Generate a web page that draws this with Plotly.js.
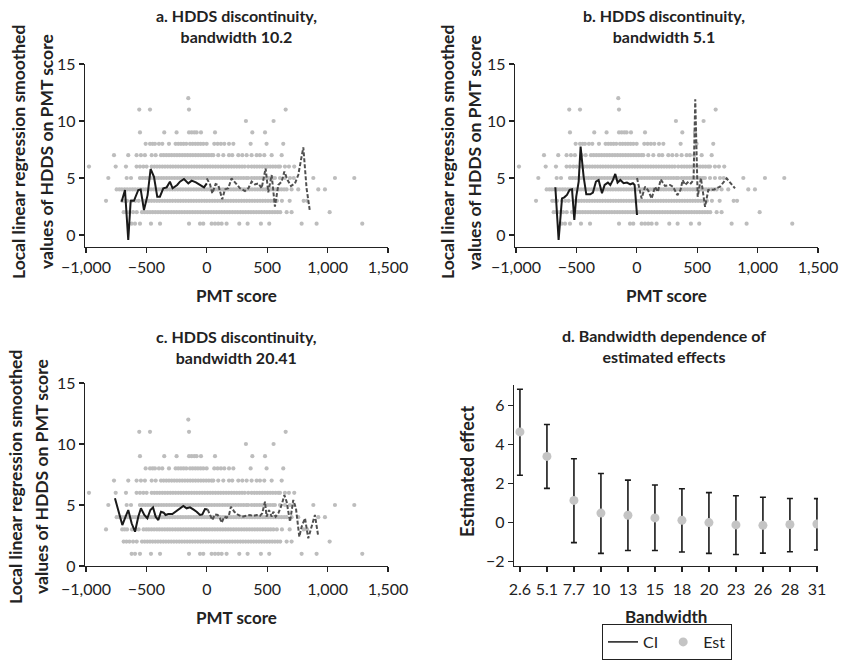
<!DOCTYPE html>
<html>
<head>
<meta charset="utf-8">
<script src="https://cdn.plot.ly/plotly-3.0.1.min.js"></script>
<style>html,body{margin:0;padding:0;background:#fff}#chart{width:841px;height:661px}</style>
</head>
<body>
<div id="chart"></div>
<script>
// ---- raw observations: PMT score values at each HDDS level ----
const hddsLevels = [1,2,3,4,5,6,7,8,9,10,11,12];
const pmtAtHdds1 = [-622,-594,-553,-462,-387,-147,-56,-29,40,68,95,123,164,269,338,448,517,785,909,1287];
const pmtAtHdds2 = [-688,-665,-640,-610,-580,-536,-514,-492,-470,-448,-426,-404,-382,-360,-338,-316,-294,-272,-250,-228,-206,-184,-162,-140,-118,-96,-74,-52,-30,-8,14,36,58,80,102,124,146,168,190,212,234,256,278,300,322,344,366,388,410,432,454,476,498,520,542,564,586,608,661,702,1017];
const pmtAtHdds3 = [-834,-700,-680,-660,-619,-592,-564,-523,-501,-480,-458,-436,-413,-392,-370,-348,-326,-305,-283,-260,-238,-217,-195,-173,-151,-130,-108,-86,-64,-42,-20,1,23,45,67,89,111,133,155,177,199,221,243,265,287,309,331,353,375,397,419,441,463,485,507,529,551,580,622,686,802,830];
const pmtAtHdds4 = [-746,-724,-703,-680,-659,-636,-614,-593,-570,-548,-527,-504,-482,-461,-438,-416,-395,-372,-350,-329,-306,-284,-263,-240,-218,-197,-174,-152,-131,-108,-86,-65,-42,-20,2,24,45,68,90,111,134,156,177,200,222,243,266,288,309,332,354,375,398,420,441,464,486,507,530,552,573,596,618,640,661,702,757,923,978];
const pmtAtHdds5 = [-815,-663,-627,-553,-531,-509,-487,-465,-443,-421,-399,-377,-355,-333,-311,-289,-267,-245,-223,-201,-179,-157,-135,-113,-91,-69,-47,-25,-3,19,41,63,85,107,129,151,173,195,217,239,261,283,305,327,343,371,393,415,437,459,481,503,525,547,564,606,647,689,720,882,1061,1221];
const pmtAtHdds6 = [-975,-754,-669,-581,-553,-525,-498,-456,-434,-412,-390,-368,-346,-324,-302,-280,-258,-236,-214,-192,-170,-148,-126,-104,-82,-60,-38,-16,6,28,50,72,94,116,138,160,182,204,226,248,270,292,314,343,371,393,415,437,459,481,503,525,547,569,591,606,647,680,724];
const pmtAtHdds7 = [-768,-650,-581,-545,-512,-456,-423,-379,-357,-335,-313,-291,-269,-247,-225,-203,-181,-159,-137,-115,-93,-71,-49,-27,-5,17,39,54,95,137,184,211,261,294,330,371,413,440,476,537,620];
const pmtAtHdds8 = [-506,-470,-448,-429,-396,-368,-313,-258,-236,-214,-192,-170,-139,-117,-95,-73,-51,-29,-1,62,90,117,145,184,220,363,495,633];
const pmtAtHdds9 = [-553,-352,-250,-147,-125,-103,-84,-48,68,377,482];
const pmtAtHdds10 = [324,553];
const pmtAtHdds11 = [-559,-470,-147,653];
const pmtAtHdds12 = [-153];

// ---- local linear regression smoothed lines ----
const aLeftX  = [-705,-677,-650,-630,-603,-567,-547,-520,-490,-465,-437,-410,-388,-360,-332,-305,-283,-245,-222,-189,-153,-125,-90,-56,-23,0];
const aLeftY  = [2.92,3.95,-0.44,3.0,3.0,3.95,4.0,2.19,3.5,5.79,5.11,3.36,3.36,4.1,4.18,4.68,4.1,4.39,4.68,4.91,4.53,4.77,4.62,4.39,4.18,4.53];
const aRightX = [0,27,46,73,95,128,150,178,205,239,275,316,344,371,399,427,454,487,509,537,564,592,620,642,669,697,730,757,799,826,854];
const aRightY = [4.97,4.44,3.65,4.47,4.39,3.13,4.0,4.1,4.97,4.53,4.1,3.86,4.1,4.68,4.44,4.53,4.1,5.85,3.74,5.26,2.49,4.39,4.68,5.56,4.82,4.3,4.53,5.26,7.69,4.1,2.05];

const bLeftX  = [-674,-647,-619,-600,-578,-556,-536,-517,-501,-481,-465,-440,-418,-385,-363,-338,-316,-288,-266,-239,-219,-197,-178,-159,-136,-109,-81,-54,-32,-18,2];
const bLeftY  = [4.19,-0.44,3.22,3.31,3.52,3.96,4.01,1.32,3.37,4.69,7.76,5.13,3.57,3.57,3.72,4.69,4.83,3.66,4.39,4.6,4.39,4.83,5.36,4.6,4.83,4.54,4.6,4.45,4.54,4.39,1.76];
const bRightX = [2,40,68,95,123,151,175,198,234,275,300,336,362,380,400,428,447,470,484,504,531,565,592,640,689,744,813];
const bRightY = [5.0,3.2,4.24,3.9,3.2,4.24,3.8,4.88,4.3,4.39,4.24,3.5,3.95,4.82,4.39,4.68,4.53,4.82,11.9,3.36,5.0,2.48,3.95,4.0,4.24,4.97,4.09];

const cLeftX  = [-760,-724,-699,-672,-650,-622,-594,-567,-545,-517,-492,-467,-445,-423,-401,-379,-357,-341,-319,-285,-258,-222,-194,-167,-139,-112,-84,-56,-37,-15,7];
const cLeftY  = [5.55,4.18,3.36,4.04,4.59,3.5,2.81,4.04,4.73,4.18,3.91,4.59,4.81,4.04,3.77,4.45,4.37,4.18,4.26,4.26,4.45,4.73,4.92,4.73,4.81,4.64,4.45,4.18,4.23,4.67,4.64];
const cRightX = [7,26,46,68,90,109,123,145,164,184,200,228,261,294,330,357,385,412,440,459,482,495,515,537,551,570,592,620,642,661,689,716,738,766,785,813,840,868,895,923];
const cRightY = [4.64,4.18,3.77,4.23,4.18,3.91,3.55,4.04,3.96,4.18,4.86,4.45,4.18,4.04,4.1,4.18,4.1,4.18,4.1,4.32,5.27,4.04,4.59,4.04,4.45,4.04,4.32,5.0,5.82,5.27,3.63,5.41,4.73,2.4,3.22,3.91,2.27,3.22,4.18,2.4];

// ---- panel d: bandwidth dependence ----
const bandwidthLabels = ['2.6','5.1','7.7','10','13','15','18','20','23','26','28','31'];
const estimates = [4.64,3.38,1.12,0.47,0.36,0.22,0.10,-0.02,-0.14,-0.16,-0.12,-0.09];
const ciLow  = [2.41,1.74,-1.05,-1.60,-1.45,-1.45,-1.53,-1.60,-1.66,-1.59,-1.52,-1.43];
const ciHigh = [6.83,5.02,3.26,2.50,2.16,1.91,1.72,1.52,1.36,1.28,1.22,1.21];

// ---- build ----
const rows = [pmtAtHdds1,pmtAtHdds2,pmtAtHdds3,pmtAtHdds4,pmtAtHdds5,pmtAtHdds6,pmtAtHdds7,pmtAtHdds8,pmtAtHdds9,pmtAtHdds10,pmtAtHdds11,pmtAtHdds12];
const obsX = [], obsY = [];
rows.forEach((r,i)=>r.forEach(x=>{obsX.push(x); obsY.push(hddsLevels[i]);}));

const FONT = 'Lato, "Open Sans", sans-serif';
const DOT = '#bdbdbd';
function panelTraces(xa, ya, lx, ly, rx, ry){
  return [
    {type:'scatter', mode:'markers', x:obsX, y:obsY, xaxis:xa, yaxis:ya, showlegend:false,
     marker:{color:DOT, size:4.2}, hoverinfo:'skip'},
    {type:'scatter', mode:'lines', x:lx, y:ly, xaxis:xa, yaxis:ya, showlegend:false,
     line:{color:'#1a1a1a', width:2}},
    {type:'scatter', mode:'lines', x:rx, y:ry, xaxis:xa, yaxis:ya, showlegend:false,
     line:{color:'#505050', width:2, dash:'4px,2px'}}
  ];
}
const traces = [].concat(
  panelTraces('x','y', aLeftX,aLeftY,aRightX,aRightY),
  panelTraces('x2','y2', bLeftX,bLeftY,bRightX,bRightY),
  panelTraces('x3','y3', cLeftX,cLeftY,cRightX,cRightY)
);
traces.push({type:'scatter', mode:'lines', x:[null], y:[null], xaxis:'x4', yaxis:'y4', name:'CI',
  line:{color:'#1a1a1a', width:1.5}});
traces.push({type:'scatter', mode:'markers', x:bandwidthLabels, y:estimates, xaxis:'x4', yaxis:'y4', name:'Est',
  marker:{color:'#c4c4c4', size:9},
  error_y:{type:'data', symmetric:false,
    array: ciHigh.map((h,i)=>h-estimates[i]),
    arrayminus: estimates.map((e,i)=>e-ciLow[i]),
    color:'#1a1a1a', thickness:1.6, width:3}});

const tickFont = {family:FONT, size:16, color:'#222'};
function pmtAxis(dom, anchor, standoff){
  return {domain:dom, anchor:anchor, range:[-1008,1500], tickvals:[-1000,-500,0,500,1000,1500],
    separatethousands:true, showgrid:false, zeroline:false, showline:true, linecolor:'#222', linewidth:1.3,
    ticks:'outside', ticklen:5, tickwidth:1.2, tickcolor:'#222', tickfont:tickFont, fixedrange:true,
    ticklabelstandoff:standoff||0};
}
function hddsAxis(dom, anchor, r){
  return {domain:dom, anchor:anchor, range:r, tickvals:[0,5,10,15], showgrid:false, zeroline:false,
    showline:true, linecolor:'#222', linewidth:1.3, ticks:'outside', ticklen:5, tickwidth:1.2,
    tickcolor:'#222', tickfont:tickFont, fixedrange:true};
}
const W=841, H=661;
const px = v=>v/W, py = v=>1-v/H;
function ann(text, x, y, size, opts){
  return Object.assign({text:text, x:px(x), y:py(y), xref:'paper', yref:'paper', showarrow:false,
    xanchor:'center', yanchor:'middle', font:{family:FONT, size:size, color:'#222', weight:'bold'}}, opts||{});
}
const layout = {
  width:W, height:H, margin:{l:0,r:0,t:0,b:0}, paper_bgcolor:'#fff', plot_bgcolor:'#fff',
  font:{family:FONT, color:'#222'},
  xaxis: pmtAxis([px(85),px(388)],'y'),
  yaxis: hddsAxis([py(247),py(64)],'x',[-1.05,15]),
  xaxis2: pmtAxis([px(515),px(818)],'y2'),
  yaxis2: hddsAxis([py(247),py(64)],'x2',[-1.05,15]),
  xaxis3: pmtAxis([px(85),px(388)],'y3', 3),
  yaxis3: hddsAxis([py(566),py(383)],'x3',[0,15]),
  xaxis4: {domain:[px(514),px(818)], anchor:'y4', type:'category', range:[-0.22,11.04],
    showgrid:false, zeroline:false, showline:true, linecolor:'#222', linewidth:1.3,
    ticks:'outside', ticklen:5, tickwidth:1.2, tickcolor:'#222', tickfont:tickFont, fixedrange:true,
    ticklabelstandoff:3},
  yaxis4: {domain:[py(566),py(385)], anchor:'x4', range:[-2.25,7.05], tickvals:[-2,0,2,4,6],
    showgrid:false, zeroline:false, showline:true, linecolor:'#222', linewidth:1.3,
    ticks:'outside', ticklen:5, tickwidth:1.2, tickcolor:'#222', tickfont:tickFont, fixedrange:true},
  showlegend:true,
  legend:{orientation:'h', x:px(602), y:py(660), xanchor:'left', yanchor:'bottom',
    bordercolor:'#222', borderwidth:1, bgcolor:'#fff', font:{family:FONT, size:16, color:'#222'},
    itemwidth:30, traceorder:'normal'},
  annotations:[
    ann('a. HDDS discontinuity,<br>bandwidth 10.2', 236, 26, 16),
    ann('b. HDDS discontinuity,<br>bandwidth 5.1', 664, 26, 16),
    ann('c. HDDS discontinuity,<br>bandwidth 20.41', 236, 346.5, 16),
    ann('d. Bandwidth dependence of<br>estimated effects', 664, 346, 16),
    ann('PMT score', 236, 296, 17),
    ann('PMT score', 666, 296, 17),
    ann('PMT score', 236, 617, 17),
    ann('Bandwidth', 666, 616, 17),
    ann('Local linear regression smoothed', 18, 152, 17.5, {textangle:-90}),
    ann('values of HDDS on PMT score', 46, 152, 17.5, {textangle:-90}),
    ann('Local linear regression smoothed', 447, 152, 17.5, {textangle:-90}),
    ann('values of HDDS on PMT score', 474, 152, 17.5, {textangle:-90}),
    ann('Local linear regression smoothed', 16, 477, 17.5, {textangle:-90}),
    ann('values of HDDS on PMT score', 42, 477, 17.5, {textangle:-90}),
    ann('Estimated effect', 467, 472, 18, {textangle:-90})
  ]
};
Plotly.newPlot('chart', traces, layout, {displayModeBar:false, staticPlot:true});
</script>
</body>
</html>
